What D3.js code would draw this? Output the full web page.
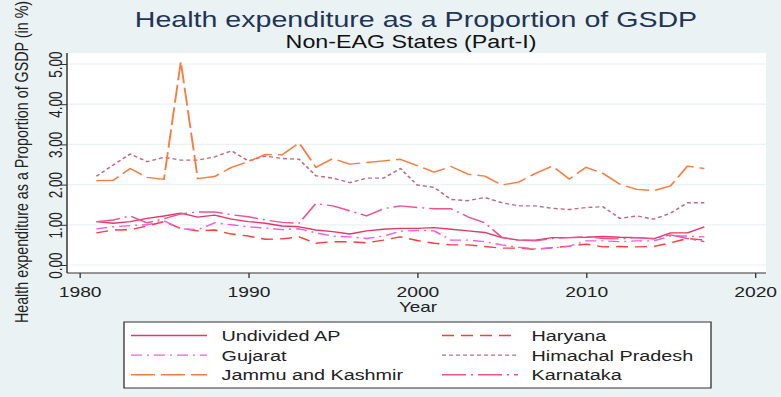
<!DOCTYPE html>
<html><head><meta charset="utf-8">
<script src="https://cdn.jsdelivr.net/npm/d3@7"></script>
<style>html,body{margin:0;padding:0;background:#eaf2f3;overflow:hidden}svg{display:block}</style>
</head><body>
<svg id="chart"></svg>
<script>
const years = [1981,1982,1983,1984,1985,1986,1987,1988,1989,1990,1991,1992,1993,1994,1995,1996,1997,1998,1999,2000,2001,2002,2003,2004,2005,2006,2007,2008,2009,2010,2011,2012,2013,2014,2015,2016,2017];
const undividedAP = [1.08,1.04,1.08,1.16,1.22,1.29,1.19,1.24,1.14,1.08, 1.04,0.97,0.95,0.87,0.83,0.77,0.85,0.89,0.91,0.91, 0.93,0.89,0.85,0.81,0.68,0.62,0.62,0.68,0.68,0.69, 0.71,0.69,0.68,0.65,0.80,0.80,0.95];
const haryana = [0.80,0.87,0.88,0.97,1.08,0.91,0.85,0.87,0.77,0.72, 0.64,0.65,0.70,0.54,0.58,0.58,0.55,0.62,0.70,0.61, 0.54,0.50,0.50,0.46,0.42,0.42,0.39,0.43,0.47,0.52, 0.45,0.46,0.45,0.46,0.55,0.66,0.62];
const gujarat = [0.90,0.95,0.98,1.00,1.10,0.90,0.88,1.05,1.00,0.95, 0.92,0.88,0.90,0.80,0.72,0.70,0.66,0.72,0.84,0.86, 0.85,0.62,0.62,0.58,0.50,0.44,0.40,0.42,0.47,0.60, 0.60,0.58,0.60,0.60,0.72,0.72,0.70];
const himachal = [2.21,2.49,2.76,2.57,2.68,2.61,2.61,2.69,2.84,2.59, 2.71,2.65,2.63,2.22,2.16,2.05,2.16,2.16,2.40,1.99, 1.93,1.63,1.60,1.68,1.55,1.47,1.47,1.41,1.38,1.43, 1.45,1.16,1.22,1.14,1.29,1.55,1.55];
const jammuKashmir = [2.10,2.11,2.40,2.18,2.13,5.06,2.15,2.20,2.43,2.57, 2.75,2.74,3.04,2.43,2.65,2.51,2.55,2.59,2.63,2.47, 2.31,2.45,2.26,2.21,1.99,2.06,2.28,2.46,2.14,2.43, 2.28,2.01,1.88,1.85,1.97,2.46,2.40];
const karnataka = [1.08,1.12,1.22,1.05,1.15,1.27,1.32,1.32,1.25,1.20, 1.12,1.06,1.04,1.53,1.47,1.35,1.22,1.40,1.47,1.43, 1.40,1.40,1.20,1.05,0.69,0.62,0.60,0.66,0.68,0.70, 0.66,0.65,0.68,0.66,0.75,0.66,0.58];
const seriesNames = ["Undivided AP","Haryana","Gujarat","Himachal Pradesh","Jammu and Kashmir","Karnataka"];
const xTicks = [1980,1990,2000,2010,2020];
const yTicks = [0,1,2,3,4,5];

const seriesData = [undividedAP, haryana, gujarat, himachal, jammuKashmir, karnataka];
const colors = ["#e23a62","#fb3c3c","#f55ae8","#c06a82","#fb7a3c","#ee5296"];
const S = 1.33; // horizontal stretch of the reference picture
const dashes = [null,[12,7],[11,5,2,5],[4,3],[24,6],[24,5,2,5]];
const dashStr = d => d ? d.map(v => (v/S).toFixed(2)).join(" ") : null;

const W = 781, H = 397, VW = W / S;
const fx = v => v / S;
const svg = d3.select("#chart").attr("width", W).attr("height", H)
  .attr("viewBox", `0 0 ${VW} ${H}`).attr("preserveAspectRatio", "none");
const FONT = "'Liberation Sans', Arial, Helvetica, sans-serif";

svg.append("rect").attr("x",0).attr("y",0).attr("width",VW).attr("height",H).attr("fill","#eaf2f3");

// plot region
const pr = {x0: fx(67), x1: fx(766), y0: 53, y1: 273};
svg.append("rect").attr("x",pr.x0).attr("y",pr.y0).attr("width",pr.x1-pr.x0).attr("height",pr.y1-pr.y0).attr("fill","#ffffff");

const x = d3.scaleLinear().domain([1980,2020]).range([fx(79.5), fx(755)]);
const y = d3.scaleLinear().domain([0,5]).range([265, 64]);

// gridlines
svg.append("g").selectAll("line").data(yTicks).join("line")
  .attr("x1",pr.x0).attr("x2",pr.x1).attr("y1",d=>y(d)).attr("y2",d=>y(d))
  .attr("stroke","#eaf2f3").attr("stroke-width",1.2);

// series
const line = d3.line().x((d,i)=>x(years[i])).y(d=>y(d));
seriesData.forEach((vals,k)=>{
  svg.append("path").datum(vals).attr("d",line).attr("fill","none")
    .attr("stroke",colors[k]).attr("stroke-width",1.4)
    .attr("stroke-dasharray",dashStr(dashes[k]))
    .attr("stroke-linejoin","round");
});

// axes
const yAxis = d3.axisLeft(y).tickValues(yTicks).tickSize(fx(6)).tickPadding(0).tickFormat(d3.format(".2f"));
const gy = svg.append("g").attr("transform",`translate(${pr.x0},0)`).call(yAxis);
gy.select(".domain").attr("d",`M0,${pr.y0}V${pr.y1}`).attr("stroke","#333").attr("stroke-width",1.1);
gy.selectAll(".tick line").attr("stroke","#333");
gy.selectAll(".tick text")
  .attr("x",0).attr("y",0).attr("dy",null).attr("text-anchor","middle")
  .attr("transform",`translate(${fx(62)-pr.x0},0) rotate(-90)`)
  .attr("font-family",FONT).attr("font-size",13.5).attr("fill","#222");

const xAxis = d3.axisBottom(x).tickValues(xTicks).tickSize(5).tickPadding(0).tickFormat(d3.format("d"));
const gx = svg.append("g").attr("transform",`translate(0,${pr.y1})`).call(xAxis);
gx.select(".domain").attr("d",`M${pr.x0},0H${pr.x1}`).attr("stroke","#333").attr("stroke-width",1.1);
gx.selectAll(".tick line").attr("stroke","#333");
gx.selectAll(".tick text").attr("dy",null).attr("y",297-pr.y1)
  .attr("font-family",FONT).attr("font-size",14.5).attr("fill","#222");

// titles
svg.append("text").attr("x",fx(416)).attr("y",26.7).attr("text-anchor","middle")
  .attr("font-family",FONT).attr("font-size",21.5).attr("fill","#1f3557")
  .text("Health expenditure as a Proportion of GSDP");
svg.append("text").attr("x",fx(411)).attr("y",48.3).attr("text-anchor","middle")
  .attr("font-family",FONT).attr("font-size",17.5).attr("fill","#111")
  .text("Non-EAG States (Part-I)");
svg.append("text").attr("transform",`translate(${fx(27.5)},162) rotate(-90)`).attr("text-anchor","middle")
  .attr("font-family",FONT).attr("font-size",14.3).attr("fill","#222")
  .text("Health expenditure as a Proportion of GSDP (in %)");
svg.append("text").attr("x",fx(418)).attr("y",312).attr("text-anchor","middle")
  .attr("font-family",FONT).attr("font-size",14.2).attr("fill","#222")
  .text("Year");

// legend
const lg = svg.append("g");
lg.append("rect").attr("x",fx(124)).attr("y",322).attr("width",fx(711)-fx(124)).attr("height",66)
  .attr("fill","#ffffff").attr("stroke","#333").attr("stroke-width",1);
const rowBase = [341, 360.6, 380.2];
const colKey = [[131,207,221.5],[442,518,531.5]];
seriesNames.forEach((name,k)=>{
  const r = Math.floor(k/2), c = k%2;
  const [k0,k1,tx] = colKey[c];
  lg.append("line").attr("x1",fx(k0)).attr("x2",fx(k1)).attr("y1",rowBase[r]-5.5).attr("y2",rowBase[r]-5.5)
    .attr("stroke",colors[k]).attr("stroke-width",1.4).attr("stroke-dasharray",dashStr(dashes[k]));
  lg.append("text").attr("x",fx(tx)).attr("y",rowBase[r]).attr("font-family",FONT).attr("font-size",14.9)
    .attr("fill","#222").text(name);
});
</script>
</body></html>
